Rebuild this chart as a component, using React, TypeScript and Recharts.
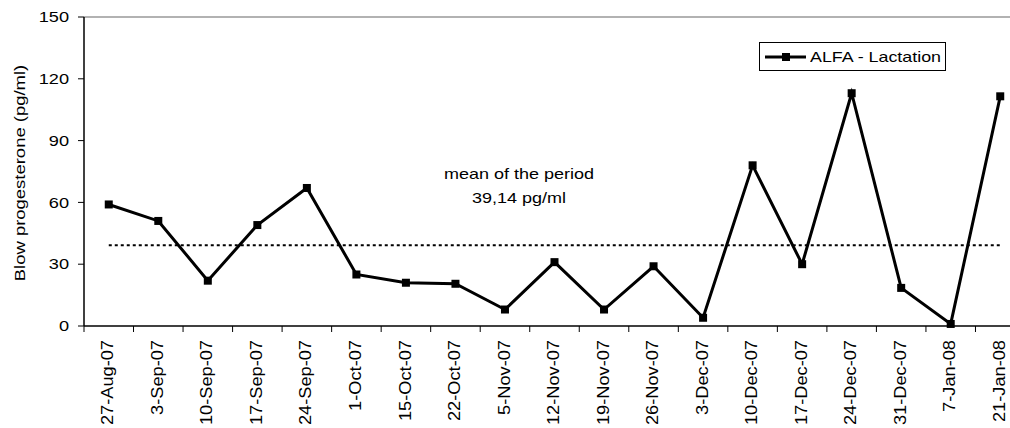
import React from 'react';
import { LineChart, Line, XAxis, YAxis, ReferenceLine } from 'recharts';

const dates = [
  '27-Aug-07', '3-Sep-07', '10-Sep-07', '17-Sep-07', '24-Sep-07', '1-Oct-07',
  '15-Oct-07', '22-Oct-07', '5-Nov-07', '12-Nov-07', '19-Nov-07', '26-Nov-07',
  '3-Dec-07', '10-Dec-07', '17-Dec-07', '24-Dec-07', '31-Dec-07', '7-Jan-08', '21-Jan-08',
];
const progesterone = [59, 51, 22, 49, 67, 25, 21, 20.5, 8, 31, 8, 29, 4, 78, 30, 113, 18.5, 1, 111.5];
const yTicks = [0, 30, 60, 90, 120, 150];
const MEAN = 39.14;

const data = dates.map((d, i) => ({ i, date: d, value: progesterone[i] }));
const labelTicks = dates.map((_, i) => i);
const boundaryTicks = dates.map((_, i) => i - 0.5).concat([dates.length - 0.5]);

const FONT = '"Liberation Sans", Arial, sans-serif';

const YTick = ({ x, y, payload }: any) => (
  <g transform={`translate(${x - 7},${y})`}>
    <text transform="scale(1.3,1)" textAnchor="end" dominantBaseline="central" fontSize={14} fill="#000" fontFamily={FONT}>
      {payload.value}
    </text>
  </g>
);

const DateTick = ({ x, y, payload }: any) => (
  <g transform={`translate(${x - 1},${y})`}>
    <g transform="rotate(-90)">
      <text transform="scale(1.14,1)" textAnchor="end" dominantBaseline="central" fontSize={16} fill="#000" fontFamily={FONT}>
        {dates[payload.value]}
      </text>
    </g>
  </g>
);

const SquareDot = ({ cx, cy }: any) => <rect x={cx - 4} y={cy - 4} width={8} height={8} fill="#000" />;

const LegendBox = () => (
  <div
    style={{
      position: 'absolute', left: 759, top: 42, width: 185, height: 27, border: '1px solid #000',
      background: '#fff', display: 'flex', alignItems: 'center', fontFamily: FONT,
    }}
  >
    <svg width={48} height={27} style={{ flex: 'none' }}>
      <line x1={5} y1={14} x2={46} y2={14} stroke="#000" strokeWidth={3} />
      <rect x={22} y={10} width={8} height={8} fill="#000" />
    </svg>
    <span style={{ fontSize: 15, display: 'inline-block', transform: 'scaleX(1.19)', transformOrigin: 'left center', whiteSpace: 'nowrap', marginLeft: 2 }}>
      ALFA - Lactation
    </span>
  </div>
);

export default function App() {
  return (
    <div style={{ position: 'fixed', left: 0, top: 0, width: 1010, height: 428, overflow: 'hidden', background: '#fff', fontFamily: FONT }}>
      <LineChart width={1040} height={428} data={data} margin={{ top: 17, right: 15, left: 0, bottom: 0 }}>
        <XAxis
          xAxisId="b"
          dataKey="i"
          type="number"
          domain={[-0.5, dates.length - 0.5]}
          ticks={boundaryTicks}
          interval={0}
          tickSize={6}
          tickFormatter={() => ''}
          height={6}
          stroke="#000"
          axisLine={{ stroke: '#000', strokeWidth: 1.5 }}
          tickLine={{ stroke: '#000' }}
        />
        <XAxis
          xAxisId="lbl"
          dataKey="i"
          type="number"
          domain={[-0.5, dates.length - 0.5]}
          ticks={labelTicks}
          interval={0}
          axisLine={false}
          tickLine={false}
          tick={<DateTick />}
          height={96}
        />
        <YAxis
          domain={[0, 150]}
          ticks={yTicks}
          interval={0}
          width={84}
          tickSize={6}
          tick={<YTick />}
          axisLine={{ stroke: '#000', strokeWidth: 1.5 }}
          tickLine={{ stroke: '#000' }}
        />
        <ReferenceLine xAxisId="b" y={150} stroke="#999" strokeWidth={1.5} />
        <ReferenceLine
          xAxisId="b"
          segment={[{ x: 0, y: MEAN }, { x: dates.length - 1, y: MEAN }]}
          stroke="#000"
          strokeWidth={2}
          strokeDasharray="3 3"
        />
        <Line
          xAxisId="b"
          type="linear"
          dataKey="value"
          stroke="#000"
          strokeWidth={3}
          dot={<SquareDot />}
          activeDot={false}
          isAnimationActive={false}
        />
      </LineChart>
      <LegendBox />
      <div style={{ position: 'absolute', left: 419, top: 162, width: 200, textAlign: 'center', fontSize: 15, lineHeight: '24px', color: '#000' }}>
        <div style={{ transform: 'scaleX(1.2)' }}>mean of the period</div>
        <div style={{ transform: 'scaleX(1.2)' }}>39,14 pg/ml</div>
      </div>
      <div
        style={{
          position: 'absolute', left: 19, top: 173, transform: 'translate(-50%,-50%) rotate(-90deg) scaleX(1.23)',
          fontSize: 15, whiteSpace: 'nowrap', color: '#000',
        }}
      >
        Blow progesterone (pg/ml)
      </div>
    </div>
  );
}
